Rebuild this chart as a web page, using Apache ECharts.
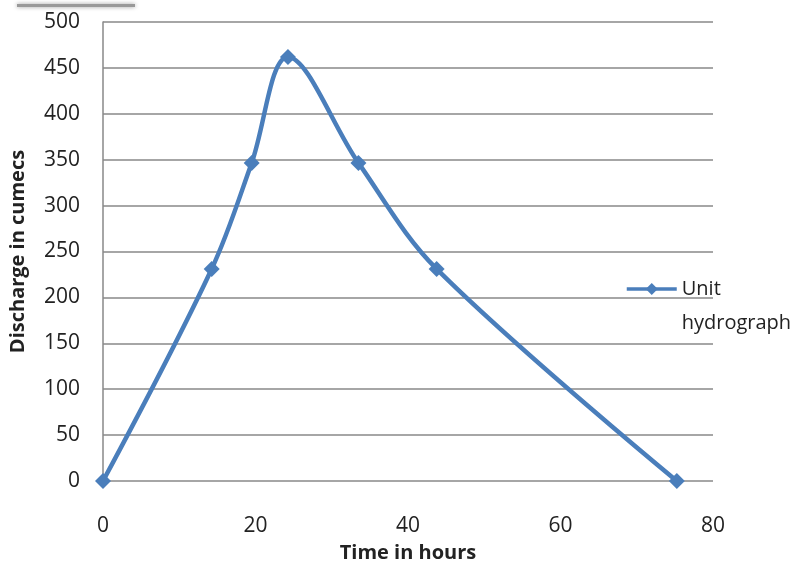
<!DOCTYPE html>
<html>
<head>
<meta charset="utf-8">
<script src="https://cdn.jsdelivr.net/npm/echarts@6/dist/echarts.min.js"></script>
<style>
html,body{margin:0;padding:0;background:#fff;}
#c{width:794px;height:578px;}
</style>
</head>
<body>
<div id="c"></div>
<script>
const timeHours = [0, 14.25, 19.5, 24.25, 33.5, 43.75, 75.25];
const discharge = [0, 231, 346.5, 462, 346.5, 231, 0];
const seriesName = 'Unit hydrograph';
const legendLines = ['Unit', 'hydrograph'];
const xTitle = 'Time in hours';
const yTitle = 'Discharge in cumecs';

const chart = echarts.init(document.getElementById('c'), null, {renderer: 'canvas'});
const font = '"Open Sans", "Liberation Sans", sans-serif';
chart.setOption({
  animation: false,
  backgroundColor: '#ffffff',
  grid: {left: 103, right: 81, top: 22, bottom: 97, containLabel: false},
  legend: {
    data: [seriesName],
    orient: 'vertical',
    left: 620,
    top: 233,
    itemWidth: 50,
    itemHeight: 15,
    itemGap: 0,
    lineStyle: {width: 3.5},
    formatter: () => ' \n' + legendLines.join('\n'),
    textStyle: {fontFamily: font, fontSize: 20, color: '#222', lineHeight: 34}
  },
  xAxis: {
    type: 'value', min: 0, max: 80, interval: 20,
    name: xTitle, nameLocation: 'middle', nameGap: 62,
    nameTextStyle: {fontFamily: font, fontSize: 20, fontWeight: 'bold', color: '#222'},
    axisLine: {show: false},
    axisTick: {show: false},
    splitLine: {show: false},
    axisLabel: {fontFamily: font, fontSize: 21, color: '#222', margin: 35}
  },
  yAxis: {
    type: 'value', min: 0, max: 500, interval: 50,
    name: yTitle, nameLocation: 'middle', nameGap: 75,
    nameTextStyle: {fontFamily: font, fontSize: 20, fontWeight: 'bold', color: '#222'},
    axisLine: {show: true, lineStyle: {color: '#888', width: 1.5}},
    axisTick: {show: false},
    splitLine: {show: true, lineStyle: {color: '#888', width: 1.5}},
    axisLabel: {fontFamily: font, fontSize: 21, color: '#222', margin: 23}
  },
  series: [{
    name: seriesName,
    type: 'line',
    data: timeHours.map((t, i) => [t, discharge[i]]),
    smooth: 0.35,
    symbol: 'diamond',
    symbolSize: 16,
    showAllSymbol: true,
    lineStyle: {color: '#4A7EBB', width: 4.5},
    itemStyle: {color: '#4A7EBB'}
  }],
  graphic: [{
    type: 'rect',
    shape: {x: 17, y: 4, width: 118, height: 3},
    style: {fill: '#999', shadowBlur: 4, shadowColor: 'rgba(0,0,0,0.4)'}
  }]
});
</script>
</body>
</html>
